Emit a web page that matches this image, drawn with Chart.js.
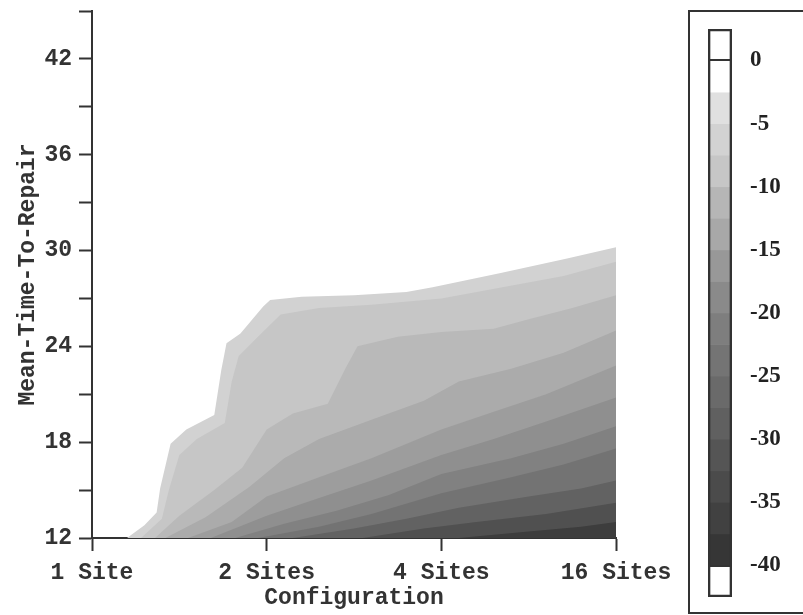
<!DOCTYPE html>
<html>
<head>
<meta charset="utf-8">
<script src="https://cdn.jsdelivr.net/npm/chart.js@4.4.1/dist/chart.umd.min.js"></script>
<style>
  html, body { margin: 0; padding: 0; background: #fff; }
  #wrap { position: relative; width: 803px; height: 615px; overflow: hidden; }
  #main { position: absolute; left: 0; top: 0; }
  #keyBox { position: absolute; left: 688px; top: 10px; width: 160px; height: 600px; border: 2px solid #333; }
  #key { position: absolute; left: 689px; top: 0; }
</style>
</head>
<body>
<div id="wrap">
  <canvas id="main" width="689" height="615"></canvas>
  <div id="keyBox"></div>
  <canvas id="key" width="114" height="615"></canvas>
</div>
<script>
// x positions: 0 = 1 Site, 1 = 2 Sites, 2 = 4 Sites, 3 = 16 Sites
const siteLabels = ['1 Site', '2 Sites', '4 Sites', '16 Sites'];
const mttrLabels = [12, 18, 24, 30, 36, 42];

// contour lines of the response surface, [configuration, MTTR]
const lvl2_5 = [[0.2, 12], [0.3, 12.8], [0.37, 13.6], [0.39, 15.1], [0.45, 17.9], [0.54, 18.8], [0.7, 19.7], [0.74, 22.5], [0.77, 24.2], [0.85, 24.8], [0.98, 26.5], [1.02, 26.9], [1.2, 27.1], [1.5, 27.2], [1.8, 27.4], [1.95, 27.7], [2.34, 28.6], [2.72, 29.5], [3.0, 30.2]];
const lvl5 = [[0.28, 12], [0.4, 13.2], [0.44, 15.0], [0.5, 17.2], [0.6, 18.2], [0.76, 19.2], [0.8, 21.8], [0.84, 23.4], [0.95, 24.6], [1.08, 26.0], [1.3, 26.4], [1.6, 26.6], [2.0, 27.0], [2.35, 27.7], [2.7, 28.4], [3.0, 29.3]];
const lvl7_5 = [[0.36, 12], [0.5, 13.4], [0.7, 15.0], [0.86, 16.4], [1.0, 18.8], [1.15, 19.8], [1.35, 20.4], [1.45, 22.6], [1.52, 24.0], [1.75, 24.6], [2.0, 24.9], [2.3, 25.1], [2.5, 25.7], [2.75, 26.4], [3.0, 27.2]];
const lvl10 = [[0.42, 12], [0.65, 13.3], [0.9, 15.2], [1.1, 17.0], [1.3, 18.2], [1.6, 19.4], [1.9, 20.6], [2.1, 21.8], [2.4, 22.6], [2.7, 23.6], [3.0, 25.0]];
const lvl12_5 = [[0.55, 12], [0.8, 13.0], [1.0, 14.6], [1.3, 15.8], [1.6, 17.0], [2.0, 18.8], [2.3, 19.9], [2.6, 21.0], [3.0, 22.8]];
const lvl15 = [[0.68, 12], [1.0, 13.4], [1.3, 14.5], [1.6, 15.6], [2.0, 17.2], [2.3, 18.2], [2.6, 19.3], [3.0, 20.8]];
const lvl17_5 = [[0.82, 12], [1.1, 12.9], [1.4, 13.7], [1.7, 14.7], [2.0, 16.0], [2.4, 17.0], [2.7, 17.9], [3.0, 19.0]];
const lvl20 = [[0.95, 12], [1.3, 12.7], [1.6, 13.5], [2.0, 14.8], [2.4, 15.8], [2.7, 16.6], [3.0, 17.6]];
const lvl25 = [[1.15, 12], [1.5, 12.6], [1.8, 13.2], [2.1, 13.9], [2.5, 14.6], [2.8, 15.1], [3.0, 15.6]];
const lvl30 = [[1.55, 12], [1.9, 12.6], [2.2, 13.0], [2.6, 13.5], [3.0, 14.2]];
const lvl35 = [[2.1, 12], [2.5, 12.4], [2.8, 12.7], [3.0, 13.0]];

const contours = [lvl2_5, lvl5, lvl7_5, lvl10, lvl12_5, lvl15, lvl17_5, lvl20, lvl25, lvl30, lvl35];
const contourShades = ['#d2d2d2', '#c6c6c6', '#b9b9b9', '#ababab', '#9d9d9d', '#8f8f8f', '#818181', '#737373', '#626262', '#505050', '#3d3d3d'];

// colour key
const keyTicks = [0, -5, -10, -15, -20, -25, -30, -35, -40];
const keyEdges = [0, -2.5, -5, -7.5, -10, -12.5, -15, -17.5, -20, -22.5, -25, -27.5, -30, -32.5, -35, -37.5, -40];
const keyShades = ['#ffffff', '#e0e0e0', '#d2d2d2', '#c6c6c6', '#b6b6b6', '#a8a8a8', '#989898', '#8a8a8a', '#7e7e7e', '#747474', '#6a6a6a', '#606060', '#555555', '#4b4b4b', '#414141', '#363636'];

const ink = '#333';
const monoFont = { family: 'Liberation Mono', size: 23, weight: 'bold' };

const axisGrid = { drawOnChartArea: false, drawTicks: true, tickLength: 13, tickColor: ink, tickWidth: 2 };

new Chart(document.getElementById('main'), {
    type: 'line',
    data: {
        datasets: contours.map((pts, i) => ({
            data: pts.map(p => ({ x: p[0], y: p[1] })),
            fill: 'start',
            backgroundColor: contourShades[i],
            borderWidth: 0,
            pointRadius: 0,
            tension: 0,
            order: contours.length - i,
        })),
    },
    options: {
        responsive: false,
        animation: false,
        layout: { padding: { top: 11, right: 73 } },
        plugins: { legend: { display: false }, tooltip: { enabled: false } },
        scales: {
            x: {
                type: 'linear',
                min: 0,
                max: 3,
                z: 1,
                afterFit: s => { s.height = 77; },
                grid: axisGrid,
                border: { color: ink, width: 2 },
                ticks: {
                    stepSize: 1,
                    autoSkip: false,
                    maxRotation: 0,
                    padding: 8,
                    color: ink,
                    font: monoFont,
                    callback: v => siteLabels[v],
                },
                title: { display: true, text: 'Configuration', color: ink, font: monoFont, padding: { bottom: 3 } },
            },
            y: {
                type: 'linear',
                min: 12,
                max: 45,
                z: 1,
                afterFit: s => { s.width = 92; s.paddingTop = 0; s.paddingBottom = 0; },
                grid: axisGrid,
                border: { color: ink, width: 2 },
                ticks: {
                    stepSize: 3,
                    maxTicksLimit: 20,
                    autoSkip: false,
                    padding: 7,
                    color: ink,
                    font: monoFont,
                    callback: v => mttrLabels.includes(v) ? String(v) : '',
                },
                title: { display: true, text: 'Mean-Time-To-Repair', color: ink, font: monoFont, padding: { top: 14 } },
            },
        },
    },
});

// key: one bar split into shaded bands, boxed end caps and an outline
const keyDatasets = [
    { data: [[-42.5, 2.5]], backgroundColor: 'rgba(0,0,0,0)', borderColor: ink, borderWidth: 2, borderSkipped: false, order: 0 },
    { data: [[0, 2.5]], backgroundColor: '#fff', borderColor: ink, borderWidth: 2, borderSkipped: false, order: 1 },
    { data: [[-42.5, -40]], backgroundColor: '#fff', borderColor: ink, borderWidth: 2, borderSkipped: false, order: 1 },
];
keyShades.forEach((shade, i) => {
    keyDatasets.push({ data: [[keyEdges[i + 1], keyEdges[i]]], backgroundColor: shade, borderWidth: 0, order: 2 });
});

new Chart(document.getElementById('key'), {
    type: 'bar',
    data: { labels: [''], datasets: keyDatasets },
    options: {
        responsive: false,
        animation: false,
        layout: { padding: { left: 19, top: 29, bottom: 18 } },
        plugins: { legend: { display: false }, tooltip: { enabled: false } },
        datasets: { bar: { categoryPercentage: 1, barPercentage: 1 } },
        scales: {
            x: { display: false, stacked: true },
            y: {
                position: 'right',
                min: -42.5,
                max: 2.5,
                afterFit: s => { s.width = 71; s.paddingTop = 0; s.paddingBottom = 0; },
                afterBuildTicks: s => { s.ticks = keyTicks.map(v => ({ value: v })); },
                grid: { display: false },
                border: { display: false },
                ticks: {
                    padding: 10,
                    color: '#222',
                    font: { family: 'Liberation Serif', size: 23, weight: 'bold' },
                    callback: v => String(v),
                },
            },
        },
    },
});
</script>
</body>
</html>
